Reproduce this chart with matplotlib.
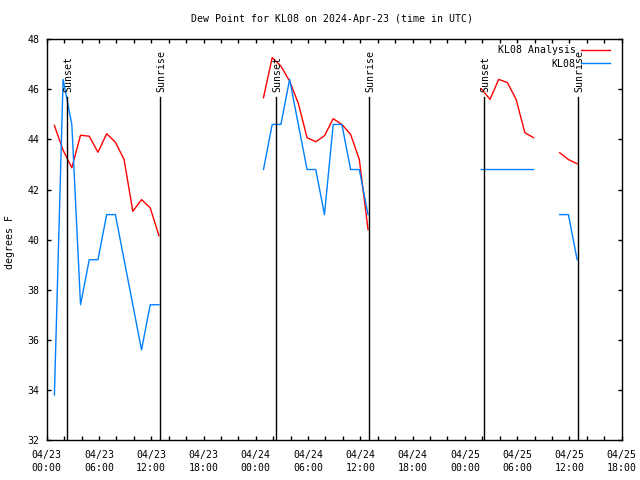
import numpy as np
import pandas as pd
import matplotlib
matplotlib.use('Agg')
from matplotlib import pyplot as plt
import matplotlib.dates as mdates
import matplotlib.transforms as mtransforms

plt.rcParams['font.family'] = 'DejaVu Sans Mono'
plt.rcParams['font.size'] = 7.1

nan = np.nan

times = pd.to_datetime([
    '2024-04-23 00:53', '2024-04-23 01:53', '2024-04-23 02:53', '2024-04-23 03:53',
    '2024-04-23 04:53', '2024-04-23 05:53', '2024-04-23 06:53', '2024-04-23 07:53',
    '2024-04-23 08:53', '2024-04-23 09:53', '2024-04-23 10:53', '2024-04-23 11:53',
    '2024-04-23 12:53', '2024-04-23 18:00',
    '2024-04-24 00:53', '2024-04-24 01:53', '2024-04-24 02:53', '2024-04-24 03:53',
    '2024-04-24 04:53', '2024-04-24 05:53', '2024-04-24 06:53', '2024-04-24 07:53',
    '2024-04-24 08:53', '2024-04-24 09:53', '2024-04-24 10:53', '2024-04-24 11:53',
    '2024-04-24 12:53', '2024-04-24 18:00',
    '2024-04-25 01:53', '2024-04-25 02:53', '2024-04-25 03:53', '2024-04-25 04:53',
    '2024-04-25 05:53', '2024-04-25 06:53', '2024-04-25 07:53', '2024-04-25 08:53',
    '2024-04-25 09:53', '2024-04-25 10:53', '2024-04-25 11:53', '2024-04-25 12:53',
])

# model analysis dew point (F)
analysis = [44.56, 43.57, 42.87, 44.17, 44.13, 43.49, 44.23, 43.89, 43.2, 41.13, 41.6, 41.27, 40.16, nan,
            45.67, 47.27, 46.93, 46.33, 45.44, 44.07, 43.91, 44.15, 44.83, 44.6, 44.2, 43.2, 40.4, nan,
            46.03, 45.6, 46.4, 46.27, 45.6, 44.27, 44.07, nan, nan, 43.47, 43.2, 43.03]

# station obs dew point (F)
obs = [33.8, 46.4, 44.6, 37.4, 39.2, 39.2, 41.0, 41.0, 39.2, 37.4, 35.6, 37.4, 37.4, nan,
       42.8, 44.6, 44.6, 46.4, 44.6, 42.8, 42.8, 41.0, 44.6, 44.6, 42.8, 42.8, 41.0, nan,
       42.8, 42.8, 42.8, 42.8, 42.8, 42.8, 42.8, nan, nan, 41.0, 41.0, 39.2]

sun_times = pd.to_datetime(['2024-04-23 02:18', '2024-04-23 13:00', '2024-04-24 02:17',
                            '2024-04-24 13:02', '2024-04-25 02:14', '2024-04-25 13:01'])
sun_labels = ['Sunset', 'Sunrise', 'Sunset', 'Sunrise', 'Sunset', 'Sunrise']

fig = plt.figure(figsize=(6.4, 4.8), dpi=100)
ax = fig.add_axes([46.7/640, 40/480, 575/640, 400.7/480])

ax.plot(times, analysis, color='#ff0000', lw=1, label='KL08 Analysis')
ax.plot(times, obs, color='#0080ff', lw=1, label='KL08')

trans = mtransforms.blended_transform_factory(ax.transData, ax.transAxes)
for t, lab in zip(sun_times, sun_labels):
    ax.axvline(t, ymin=0, ymax=0.856, color='k', lw=1)
    ax.text(mdates.date2num(t) + 0.006, 0.868, lab, transform=trans, rotation=90,
            ha='center', va='bottom')

ax.set_xlim(pd.Timestamp('2024-04-23 00:00'), pd.Timestamp('2024-04-25 18:00'))
ax.set_ylim(32, 48)
ax.set_yticks(np.arange(32, 49, 2))
ax.xaxis.set_major_locator(mdates.HourLocator(byhour=[0, 6, 12, 18]))
ax.xaxis.set_minor_locator(mdates.HourLocator(byhour=range(0, 24, 2)))
ax.xaxis.set_major_formatter(mdates.DateFormatter('%m/%d\n%H:%M'))
ax.tick_params(which='both', direction='in', top=True, right=True, length=3, width=1)
ax.tick_params(axis='x', pad=7)
ax.tick_params(axis='y', pad=5)
for s in ax.spines.values():
    s.set_linewidth(1)
fig.canvas.draw()
for lab in ax.get_xticklabels():
    lab.set_linespacing(1.35)

fig.text(10/640, 1 - 242/480, 'degrees F', rotation=90, ha='center', va='center')
fig.text(331.7/640, 1 - 19/480, 'Dew Point for KL08 on 2024-Apr-23 (time in UTC)',
         ha='center', va='center')

ax.legend(loc='upper right', bbox_to_anchor=(0.9797, 0.985), frameon=False, markerfirst=False,
          handlelength=2.9, handletextpad=0.6, labelspacing=0.35, borderpad=0, borderaxespad=0)

plt.savefig('out.png', dpi=100)
